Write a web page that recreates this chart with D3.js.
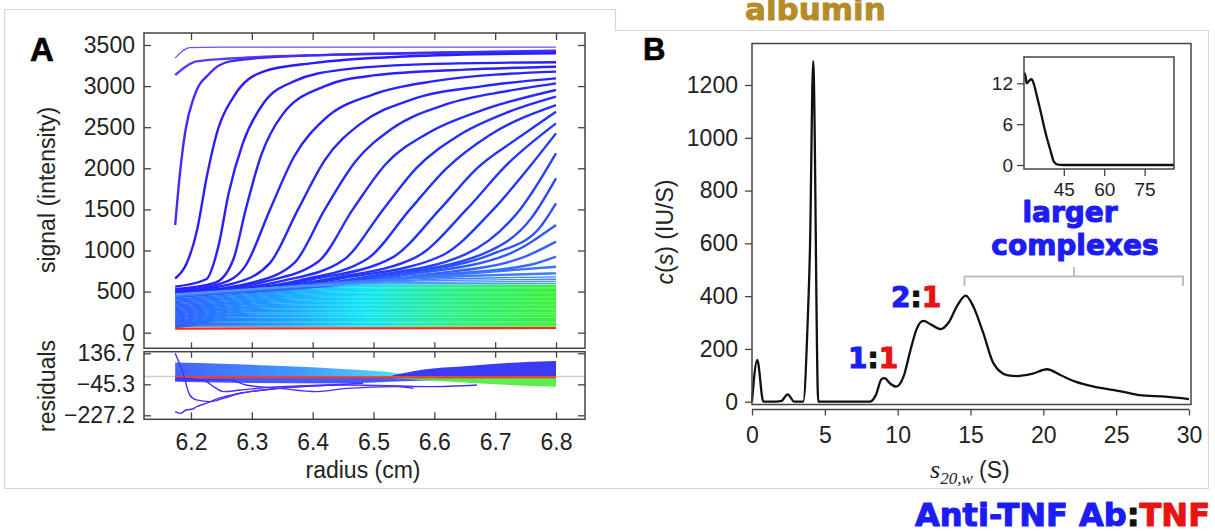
<!DOCTYPE html>
<html>
<head>
<meta charset="utf-8">
<script src="https://cdnjs.cloudflare.com/ajax/libs/d3/7.8.5/d3.min.js"></script>
<style>
body { margin: 0; background: #fff; }
</style>
</head>
<body>
<svg id="chart" width="1215" height="531"></svg>
<script>
// ---------- panel A: raw scans ----------
var radiusTicks = [6.2, 6.3, 6.4, 6.5, 6.6, 6.7, 6.8];
var signalTicks = [0, 500, 1000, 1500, 2000, 2500, 3000, 3500];
var residTicks = [-227.2, -45.3, 136.7];

// boundary scans, [radius, signal]
var boundaryScans = [
	[[6.174, 3340], [6.185, 3420], [6.198, 3468], [6.25, 3475], [6.8, 3475]],
	[[6.174, 3135], [6.19, 3230], [6.209, 3300], [6.264, 3335], [6.43, 3380], [6.8, 3420]],
	[[6.174, 1310], [6.182, 1950], [6.191, 2466], [6.205, 2870], [6.23, 3150], [6.264, 3300], [6.35, 3360], [6.55, 3400], [6.8, 3430]],
	[[6.174, 660], [6.193, 845], [6.21, 1250], [6.226, 1900], [6.244, 2466], [6.27, 2870], [6.32, 3180], [6.4, 3280], [6.55, 3360], [6.8, 3400]],
	[[6.174, 560], [6.225, 650], [6.245, 1050], [6.262, 1700], [6.285, 2300], [6.32, 2800], [6.37, 3060], [6.45, 3200], [6.6, 3270], [6.8, 3290]],
	[[6.174, 530], [6.24, 610], [6.27, 900], [6.29, 1500], [6.315, 2150], [6.35, 2650], [6.42, 3000], [6.5, 3130], [6.65, 3200], [6.8, 3235]],
	[[6.174, 510], [6.25, 600], [6.29, 820], [6.33, 1500], [6.37, 2150], [6.42, 2600], [6.5, 2900], [6.6, 3060], [6.8, 3176]],
	[[6.174, 500], [6.27, 600], [6.33, 850], [6.376, 1500], [6.42, 2100], [6.48, 2550], [6.56, 2830], [6.68, 3000], [6.8, 3094]],
	[[6.174, 490], [6.3, 610], [6.37, 850], [6.42, 1500], [6.47, 2080], [6.53, 2480], [6.62, 2780], [6.72, 2940], [6.8, 3034]],
	[[6.174, 480], [6.32, 620], [6.41, 870], [6.466, 1500], [6.52, 2050], [6.59, 2430], [6.68, 2710], [6.8, 2953]],
	[[6.174, 470], [6.35, 630], [6.45, 880], [6.516, 1500], [6.57, 2000], [6.64, 2400], [6.72, 2680], [6.8, 2871]],
	[[6.174, 465], [6.38, 640], [6.49, 900], [6.56, 1500], [6.62, 2000], [6.69, 2400], [6.8, 2770]],
	[[6.174, 460], [6.4, 650], [6.53, 910], [6.609, 1500], [6.67, 2000], [6.74, 2380], [6.8, 2689]],
	[[6.174, 455], [6.43, 660], [6.57, 920], [6.653, 1500], [6.72, 2050], [6.8, 2547]],
	[[6.174, 450], [6.45, 665], [6.61, 930], [6.697, 1500], [6.76, 2050], [6.8, 2425]],
	[[6.174, 450], [6.48, 670], [6.65, 950], [6.741, 1500], [6.8, 2182]],
	[[6.174, 450], [6.5, 680], [6.68, 960], [6.76, 1400], [6.8, 1878]],
	[[6.174, 450], [6.52, 690], [6.7, 970], [6.77, 1250], [6.8, 1574]],
	[[6.174, 450], [6.55, 700], [6.72, 950], [6.8, 1310]],
	[[6.174, 450], [6.58, 700], [6.74, 900], [6.8, 1108]],
	[[6.174, 450], [6.6, 700], [6.76, 830], [6.8, 925]],
	[[6.174, 450], [6.62, 700], [6.8, 803]],
	[[6.174, 450], [6.65, 690], [6.8, 722]],
	[[6.174, 455], [6.6, 650], [6.8, 680]],
	[[6.174, 460], [6.58, 630], [6.8, 650]],
	[[6.174, 465], [6.55, 610], [6.8, 625]],
	[[6.174, 470], [6.52, 595], [6.8, 600]]
];

// late scans (cyan -> green band): value at meniscus, radius where flat, plateau
var bandStart = [455, 440, 425, 410, 396, 380, 366, 352, 338, 322, 309, 295, 281, 267, 253, 240, 227, 213, 200, 187, 175, 162, 150, 138, 126, 115, 104, 94, 84, 75, 68, 62];
var bandKnee = [6.52, 6.51, 6.5, 6.49, 6.48, 6.47, 6.46, 6.45, 6.44, 6.43, 6.42, 6.41, 6.4, 6.39, 6.38, 6.37, 6.36, 6.35, 6.34, 6.33, 6.32, 6.31, 6.3, 6.29, 6.28, 6.27, 6.26, 6.25, 6.24, 6.23, 6.22, 6.21];
var bandPlateau = [578, 562, 545, 530, 514, 497, 481, 466, 449, 433, 418, 401, 386, 369, 353, 338, 321, 306, 289, 273, 258, 241, 226, 209, 193, 177, 161, 145, 129, 112, 96, 80];
var finalScan = [[6.174, 50], [6.8, 57]];

// residuals: [radius, low, high] envelopes and single traces
var residUpperLeft = [[6.174, 0, 82], [6.25, 0, 75], [6.35, 0, 62], [6.45, 0, 45], [6.52, 0, 28], [6.56, 0, 10]];
var residUpperRight = [[6.53, 0, 5], [6.58, 0, 40], [6.65, 0, 60], [6.72, 0, 80], [6.8, 0, 92]];
var residLowerRight = [[6.5, -4, 0], [6.58, -20, 0], [6.66, -38, 0], [6.74, -52, 0], [6.8, -60, 0]];
var residLowerLeft = [[6.174, -30, 0], [6.3, -38, 0], [6.45, -40, 0], [6.55, -28, 0], [6.65, -15, 0], [6.75, -8, 0]];
var residFinal = [[6.174, -4], [6.8, -4]];
var residTraces = [
	[[6.174, 137], [6.187, 19], [6.198, -108], [6.209, -137], [6.231, -147], [6.253, -128], [6.281, -98], [6.319, -79], [6.374, -59], [6.43, -49]],
	[[6.174, -206], [6.182, -216], [6.192, -196], [6.203, -190], [6.209, -177], [6.225, -157], [6.245, -128], [6.281, -98], [6.346, -69], [6.43, -49], [6.483, -39]],
	[[6.174, -10], [6.22, -20], [6.237, -59], [6.253, -88], [6.281, -79], [6.346, -59], [6.456, -49], [6.593, -59], [6.67, -49]],
	[[6.174, -20], [6.264, -20], [6.29, -49], [6.346, -69], [6.407, -88], [6.456, -69], [6.538, -59], [6.566, -69]]
];

// ---------- panel B: c(s) distribution ----------
var sTicks = [0, 5, 10, 15, 20, 25, 30];
var cTicks = [0, 200, 400, 600, 800, 1000, 1200];
var sedCoef = [0, 0.36, 0.78, 1.3, 2.0, 2.45, 2.9, 3.52, 3.82, 3.98, 4.2, 4.55, 6.0, 8.1, 8.5, 8.9, 9.1, 9.5, 9.9, 10.4, 10.9, 11.3, 11.76, 12.3, 12.95, 13.5, 14.1, 14.67, 15.2, 15.88, 16.57, 17.5, 18.2, 19.2, 20.25, 21.2, 22.2, 23.4, 24.5, 25.5, 26.6, 28.4, 30];
var cOfS = [0, 158, 0, 0, 2, 28, 0, 0, 300, 580, 1290, 0, 0, 0, 25, 86, 89, 68, 57, 95, 200, 275, 306, 292, 275, 300, 365, 402, 360, 260, 146, 101, 97, 105, 123, 100, 76, 58, 47, 37, 25, 19, 10];
var insetXTicks = [45, 60, 75];
var insetYTicks = [0, 6, 12];
var insetS = [30.2, 30.8, 31.2, 32.2, 33, 33.8, 34.9, 36.2, 37.4, 38.7, 40, 41.3, 42.8, 45, 86];
var insetC = [13.6, 13.0, 12.0, 12.4, 12.6, 12.0, 10.3, 8.2, 6.1, 4.0, 2.2, 0.5, 0.05, 0, 0];

var FONT = "'Liberation Sans', Arial, sans-serif";
var BOLD = "'DejaVu Sans', Verdana, sans-serif";
var BLUE = "#1c1cf5", RED = "#e81414";

var svg = d3.select("#chart");
var defs = svg.append("defs");

// panel outlines
svg.append("path")
	.attr("d", "M4.5,9.5H615.5V30.5H1208.5V488.5H4.5Z")
	.style("fill", "none")
	.style("stroke", "#d6d6d6")
	.style("stroke-width", 1.2);

svg.append("text")
	.attr("x", 745).attr("y", 20)
	.style("font-family", BOLD).style("font-weight", "bold").style("font-size", "31px")
	.style("fill", "#b58d28").style("stroke", "#b58d28").style("stroke-width", 0.9)
	.text("albumin");

function styleAxis(g, size) {
	g.attr("font-family", FONT).attr("font-size", size);
	g.select(".domain").remove();
	g.selectAll(".tick line").style("stroke", "#444").style("stroke-width", 1.3);
	g.selectAll(".tick text").style("fill", "#222");
}

// ================= panel A =================
var plotL = 144, plotR = 585, sigTop = 33, sigBot = 348.3, resTop = 351.7, resBot = 419.3;

var rX = d3.scaleLinear().domain([6.2, 6.8]).range([191, 556]);
var sigY = d3.scaleLinear().domain([0, 3500]).range([332.7, 45]);
var resY = d3.scaleLinear().domain([-227.2, 136.7]).range([415.3, 353.3]);

defs.append("clipPath").attr("id", "clipSig").append("rect")
	.attr("x", plotL).attr("y", sigTop).attr("width", plotR - plotL).attr("height", sigBot - sigTop);
defs.append("clipPath").attr("id", "clipRes").append("rect")
	.attr("x", plotL).attr("y", resTop).attr("width", plotR - plotL).attr("height", resBot - resTop);

var bandGrad = defs.append("linearGradient").attr("id", "bandGrad")
	.attr("gradientUnits", "userSpaceOnUse")
	.attr("x1", rX(6.17)).attr("x2", rX(6.8)).attr("y1", 0).attr("y2", 0);
[[0, "#2d5cff"], [0.3, "#1aa8ff"], [0.5, "#12e4f4"], [0.72, "#2cf08a"], [1, "#3cf03c"]].forEach((s) => {
	bandGrad.append("stop").attr("offset", s[0]).attr("stop-color", s[1]);
});
var resGrad = defs.append("linearGradient").attr("id", "resGrad")
	.attr("gradientUnits", "userSpaceOnUse")
	.attr("x1", rX(6.17)).attr("x2", rX(6.56)).attr("y1", 0).attr("y2", 0);
[[0, "#2f50ff"], [0.55, "#2a90ff"], [1, "#45e0ff"]].forEach((s) => {
	resGrad.append("stop").attr("offset", s[0]).attr("stop-color", s[1]);
});

var sigLine = d3.line()
	.x((d) => rX(d[0]))
	.y((d) => sigY(d[1]))
	.curve(d3.curveMonotoneX);

var sigG = svg.append("g").attr("clip-path", "url(#clipSig)");

var bandLines = bandPlateau.map((p, i) => {
	return [[6.174, bandStart[i]], [bandKnee[i], p], [6.8, p]];
});
sigG.selectAll(".band")
	.data(bandLines)
.enter().append("path")
	.attr("class", "band")
	.attr("d", sigLine)
	.style("fill", "none")
	.style("stroke", "url(#bandGrad)")
	.style("stroke-width", 1.5);

sigG.append("path")
	.datum(finalScan)
	.attr("d", sigLine)
	.style("fill", "none")
	.style("stroke", "#ff2a10")
	.style("stroke-width", 2.2);

var scanColor = d3.scaleLinear()
	.domain([0, 3, 14, 26])
	.range(["#6b4dff", "#2a1cff", "#2238ff", "#4b9cff"]);

sigG.selectAll(".scan")
	.data(boundaryScans)
.enter().append("path")
	.attr("class", "scan")
	.attr("d", sigLine)
	.style("fill", "none")
	.style("stroke", (d, i) => scanColor(i))
	.style("stroke-width", (d, i) => (i === 0 || i > 22) ? 1.3 : 2.4);

// residuals
var resG = svg.append("g").attr("clip-path", "url(#clipRes)");
resG.append("line")
	.attr("x1", plotL).attr("x2", plotR)
	.attr("y1", resY(0)).attr("y2", resY(0))
	.style("stroke", "#d0d0d0").style("stroke-width", 1.5);

var resArea = d3.area()
	.x((d) => rX(d[0]))
	.y0((d) => resY(d[1]))
	.y1((d) => resY(d[2]))
	.curve(d3.curveMonotoneX);
var resLine = d3.line()
	.x((d) => rX(d[0]))
	.y((d) => resY(d[1]))
	.curve(d3.curveMonotoneX);

resG.append("path").datum(residLowerLeft).attr("d", resArea).style("fill", "#2e48ff").style("opacity", 0.9);
resG.append("path").datum(residUpperLeft).attr("d", resArea).style("fill", "url(#resGrad)").style("opacity", 0.9);
resG.append("path").datum(residUpperRight).attr("d", resArea).style("fill", "#2626f2").style("opacity", 0.9);
resG.append("path").datum(residLowerRight).attr("d", resArea).style("fill", "#4ceb3c").style("opacity", 0.9);
resG.append("path").datum(residFinal).attr("d", resLine)
	.style("fill", "none").style("stroke", "#ff3a10").style("stroke-width", 2);

resG.selectAll(".trace")
	.data(residTraces)
.enter().append("path")
	.attr("class", "trace")
	.attr("d", resLine)
	.style("fill", "none")
	.style("stroke", "#4a2cff")
	.style("stroke-width", 1.4);

// frames
[[sigTop, sigBot], [resTop, resBot]].forEach((f) => {
	svg.append("rect")
		.attr("x", plotL).attr("y", f[0])
		.attr("width", plotR - plotL).attr("height", f[1] - f[0])
		.style("fill", "none").style("stroke", "#444").style("stroke-width", 1.5);
});

// axes (ticks point inward)
svg.append("g").attr("transform", "translate(" + plotL + ",0)")
	.call(d3.axisLeft(sigY).tickValues(signalTicks).tickSize(-7).tickPadding(9).tickFormat(d3.format("d")))
	.call((g) => styleAxis(g, 23));
svg.append("g").attr("transform", "translate(" + plotR + ",0)")
	.call(d3.axisRight(sigY).tickValues(signalTicks).tickSize(-7).tickFormat(""))
	.call((g) => styleAxis(g, 23));
svg.append("g").attr("transform", "translate(0," + sigTop + ")")
	.call(d3.axisTop(rX).tickValues(radiusTicks).tickSize(-7).tickFormat(""))
	.call((g) => styleAxis(g, 23));
svg.append("g").attr("transform", "translate(0," + sigBot + ")")
	.call(d3.axisBottom(rX).tickValues(radiusTicks).tickSize(-6).tickFormat(""))
	.call((g) => styleAxis(g, 23));
svg.append("g").attr("transform", "translate(0," + resTop + ")")
	.call(d3.axisTop(rX).tickValues(radiusTicks).tickSize(-6).tickFormat(""))
	.call((g) => styleAxis(g, 23));
svg.append("g").attr("transform", "translate(0," + resBot + ")")
	.call(d3.axisBottom(rX).tickValues(radiusTicks).tickSize(-7).tickPadding(14).tickFormat(d3.format(".1f")))
	.call((g) => styleAxis(g, 23));
svg.append("g").attr("transform", "translate(" + plotL + ",0)")
	.call(d3.axisLeft(resY).tickValues(residTicks).tickSize(-7).tickPadding(9).tickFormat(d3.format(".1f")))
	.call((g) => styleAxis(g, 23));
svg.append("g").attr("transform", "translate(" + plotR + ",0)")
	.call(d3.axisRight(resY).tickValues(residTicks).tickSize(-7).tickFormat(""))
	.call((g) => styleAxis(g, 23));

// titles
svg.append("text")
	.attr("transform", "translate(55,190) rotate(-90)")
	.attr("text-anchor", "middle")
	.style("font-family", FONT).style("font-size", "23px").style("fill", "#222")
	.text("signal (intensity)");
svg.append("text")
	.attr("transform", "translate(55,386) rotate(-90)")
	.attr("text-anchor", "middle")
	.style("font-family", FONT).style("font-size", "23px").style("fill", "#222")
	.text("residuals");
svg.append("text")
	.attr("x", 363).attr("y", 478)
	.attr("text-anchor", "middle")
	.style("font-family", FONT).style("font-size", "23px").style("fill", "#222")
	.text("radius (cm)");
svg.append("text")
	.attr("x", 30).attr("y", 61)
	.style("font-family", FONT).style("font-weight", "bold").style("font-size", "33px")
	.style("stroke", "#000").style("stroke-width", 0.6)
	.text("A");

// ================= panel B =================
var bL = 752, bR = 1191, bTop = 43.5, bBot = 404.5;
var sX = d3.scaleLinear().domain([0, 30]).range([752, 1189]);
var cY = d3.scaleLinear().domain([0, 1200]).range([401.7, 85]);

var cLine = d3.line()
	.x((d) => sX(d[0]))
	.y((d) => cY(d[1]))
	.curve(d3.curveMonotoneX);

svg.append("path")
	.datum(sedCoef.map((s, i) => [s, cOfS[i]]))
	.attr("d", cLine)
	.style("fill", "none")
	.style("stroke", "#111")
	.style("stroke-width", 2.3)
	.style("stroke-linejoin", "round");

svg.append("rect")
	.attr("x", bL).attr("y", bTop)
	.attr("width", bR - bL).attr("height", bBot - bTop)
	.style("fill", "none").style("stroke", "#444").style("stroke-width", 1.5);

var bx = svg.append("g").attr("transform", "translate(0,409.5)")
	.call(d3.axisBottom(sX).tickValues(sTicks).tickSize(6).tickSizeOuter(0).tickPadding(11))
	.call((g) => styleAxis(g, 23));
bx.append("line").attr("x1", sX(0)).attr("x2", sX(30))
	.style("stroke", "#444").style("stroke-width", 1.3);

svg.append("g").attr("transform", "translate(" + bL + ",0)")
	.call(d3.axisLeft(cY).tickValues(cTicks).tickSize(7).tickPadding(7).tickFormat(d3.format("d")))
	.call((g) => styleAxis(g, 23));

// y title c(s) (IU/S)
var cTitle = svg.append("text")
	.attr("transform", "translate(673,232) rotate(-90)")
	.attr("text-anchor", "middle")
	.style("font-family", FONT).style("font-size", "23px").style("fill", "#222");
cTitle.append("tspan").style("font-style", "italic").text("c");
cTitle.append("tspan").text("(");
cTitle.append("tspan").style("font-style", "italic").text("s");
cTitle.append("tspan").text(") (IU/S)");

// x title s20,w (S)
var sTitle = svg.append("text")
	.attr("x", 930).attr("y", 478)
	.style("fill", "#222");
sTitle.append("tspan")
	.style("font-family", "'Liberation Serif', 'Times New Roman', serif")
	.style("font-style", "italic").style("font-size", "26px")
	.text("s");
sTitle.append("tspan")
	.attr("dy", 6)
	.style("font-family", "'Liberation Serif', 'Times New Roman', serif")
	.style("font-style", "italic").style("font-size", "17px")
	.text("20,w");
sTitle.append("tspan")
	.attr("dy", -6)
	.style("font-family", FONT).style("font-size", "23px")
	.text(" (S)");

svg.append("text")
	.attr("x", 643).attr("y", 60)
	.style("font-family", FONT).style("font-weight", "bold").style("font-size", "31px")
	.style("stroke", "#000").style("stroke-width", 0.6)
	.text("B");

// inset
var iL = 1024, iR = 1174, iTop = 57, iBot = 169;
var iX = d3.scaleLinear().domain([45, 75]).range([1063.8, 1144.6]);
var iY = d3.scaleLinear().domain([0, 12]).range([165, 83.3]);

defs.append("clipPath").attr("id", "clipInset").append("rect")
	.attr("x", iL).attr("y", iTop).attr("width", iR - iL).attr("height", iBot - iTop);

svg.append("path")
	.datum(insetS.map((s, i) => [s, insetC[i]]))
	.attr("clip-path", "url(#clipInset)")
	.attr("d", d3.line().x((d) => iX(d[0])).y((d) => iY(d[1])).curve(d3.curveMonotoneX))
	.style("fill", "none")
	.style("stroke", "#111")
	.style("stroke-width", 2.3);

svg.append("rect")
	.attr("x", iL).attr("y", iTop)
	.attr("width", iR - iL).attr("height", iBot - iTop)
	.style("fill", "none").style("stroke", "#444").style("stroke-width", 1.5);

svg.append("g").attr("transform", "translate(" + iL + ",0)")
	.call(d3.axisLeft(iY).tickValues(insetYTicks).tickSize(7).tickPadding(4))
	.call((g) => styleAxis(g, 19));
svg.append("g").attr("transform", "translate(0," + iBot + ")")
	.call(d3.axisBottom(iX).tickValues(insetXTicks).tickSize(7).tickPadding(7))
	.call((g) => styleAxis(g, 19));

// bracket for larger complexes
svg.append("path")
	.attr("d", "M964.5,286V276.5H1183V286M1074,276.5V267")
	.style("fill", "none")
	.style("stroke", "#bdbdbd")
	.style("stroke-width", 2);

function boldText(x, y, anchor, parts) {
	var t = svg.append("text")
		.attr("x", x).attr("y", y)
		.attr("text-anchor", anchor)
		.style("font-family", BOLD).style("font-weight", "bold")
		.style("stroke-width", 1.1).style("stroke-linejoin", "round");
	parts.forEach((p) => {
		t.append("tspan").style("fill", p[1]).style("stroke", p[1]).style("font-size", p[2]).text(p[0]);
	});
	return t;
}

boldText(1070, 222, "middle", [["larger", BLUE, "28px"]]);
boldText(1075, 255, "middle", [["complexes", BLUE, "28px"]]);
boldText(891, 306.5, "start", [["2", BLUE, "28px"], [":", "#111", "28px"], ["1", RED, "28px"]]);
boldText(848, 368, "start", [["1", BLUE, "28px"], [":", "#111", "28px"], ["1", RED, "28px"]]);
boldText(1210, 526, "end", [["Anti-TNF Ab", BLUE, "32px"], [":", "#111", "32px"], ["TNF", RED, "32px"]]);
</script>
</body>
</html>
